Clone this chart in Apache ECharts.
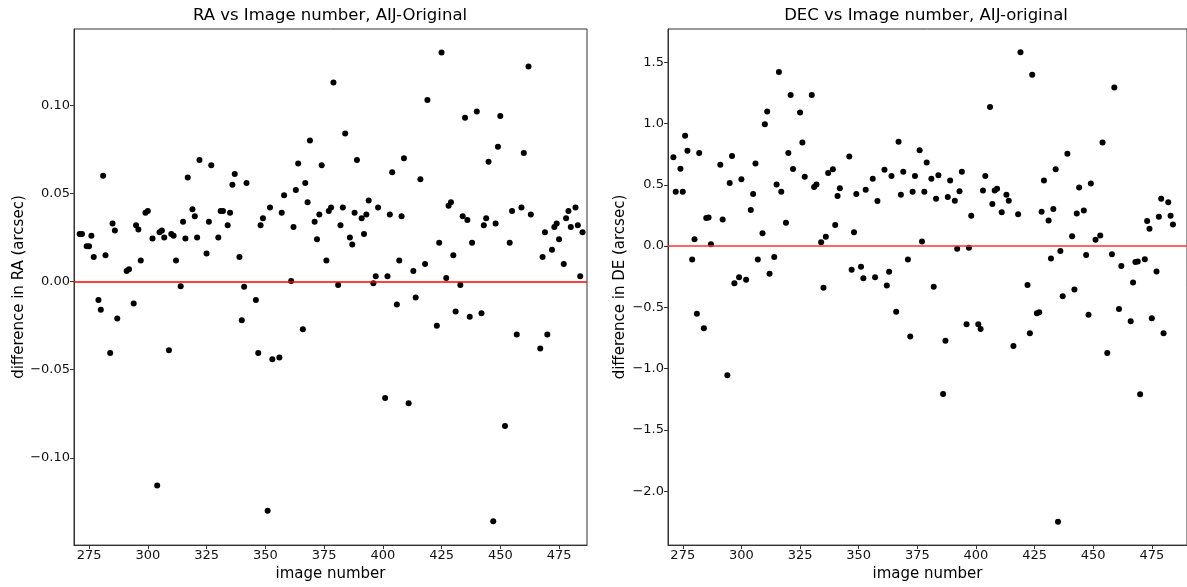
<!DOCTYPE html>
<html>
<head>
<meta charset="utf-8">
<title>AIJ-Original RA / DEC differences</title>
<script src="https://cdn.jsdelivr.net/npm/echarts@6.0.0/dist/echarts.min.js"></script>
<style>
  html, body { margin: 0; padding: 0; background: #fff; }
  #main { width: 1187px; height: 587px; }
</style>
</head>
<body>
<div id="main"></div>
<script>
// image numbers + RA difference (arcsec)
var raImage = [
  271, 272, 274, 275, 276, 277, 279, 280, 281, 282, 284, 285, 286, 287, 291, 292, 294, 295, 296, 297,
  299, 300, 302, 304, 305, 306, 307, 309, 310, 311, 312, 314, 315, 316, 317, 319, 320, 321, 322, 325,
  326, 327, 330, 331, 332, 334, 335, 336, 337, 339, 340, 341, 342, 346, 347, 348, 349, 351, 352, 353,
  356, 357, 358, 361, 362, 363, 364, 366, 367, 368, 369, 371, 372, 373, 374, 376, 377, 378, 379, 381,
  382, 383, 384, 386, 387, 388, 389, 391, 392, 393, 394, 396, 397, 398, 401, 402, 403, 404, 406, 407,
  408, 409, 411, 413, 414, 416, 418, 419, 423, 424, 425, 427, 428, 429, 430, 431, 433, 434, 435, 436,
  437, 438, 440, 442, 443, 444, 445, 447, 448, 449, 450, 452, 454, 455, 457, 459, 460, 462, 463, 467,
  468, 469, 470, 472, 473, 474, 475, 477, 478, 479, 480, 482, 483, 484, 485
];
var raDiff = [
  0.027, 0.027, 0.020, 0.020, 0.026, 0.014, -0.0105, -0.016, 0.060, 0.015, -0.0405, 0.033, 0.029, -0.021, 0.006, 0.007, -0.0125, 0.032, 0.0295, 0.012,
  0.039, 0.040, 0.0245, -0.1157, 0.028, 0.029, 0.025, -0.039, 0.027, 0.026, 0.012, -0.0026, 0.034, 0.0245, 0.059, 0.041, 0.037, 0.025, 0.069, 0.016,
  0.034, 0.066, 0.025, 0.040, 0.040, 0.032, 0.039, 0.055, 0.061, 0.014, -0.022, -0.003, 0.056, -0.0105, -0.0405, 0.032, 0.036, -0.130, 0.042, -0.044,
  -0.043, 0.039, 0.049, 0.0003, 0.031, 0.052, 0.067, -0.027, 0.056, 0.045, 0.080, 0.034, 0.024, 0.038, 0.066, 0.012, 0.040, 0.042, 0.113, -0.002,
  0.032, 0.042, 0.084, 0.025, 0.021, 0.039, 0.069, 0.036, 0.027, 0.038, 0.046, -0.001, 0.003, 0.042, -0.066, 0.003, 0.038, 0.062, -0.013, 0.012,
  0.037, 0.070, -0.069, 0.006, -0.009, 0.058, 0.010, 0.103, -0.025, 0.022, 0.130, 0.002, 0.043, 0.045, 0.015, -0.017, -0.002, 0.037, 0.093, 0.035,
  -0.020, 0.022, 0.0965, -0.018, 0.032, 0.036, 0.068, -0.136, 0.033, 0.0765, 0.094, -0.082, 0.022, 0.040, -0.030, 0.042, 0.073, 0.122, 0.038, -0.038,
  0.014, 0.028, -0.030, 0.018, 0.031, 0.033, 0.024, 0.010, 0.036, 0.040, 0.031, 0.042, 0.032, 0.003, 0.028
];

// image numbers + DEC difference (arcsec)
var decImage = [
  271, 272, 274, 275, 276, 277, 279, 280, 281, 282, 284, 285, 286, 287, 291, 292, 294, 295, 296, 297,
  299, 300, 302, 304, 305, 306, 307, 309, 310, 311, 312, 314, 315, 316, 317, 319, 320, 321, 322, 325,
  326, 327, 330, 331, 332, 334, 335, 336, 337, 339, 340, 341, 342, 346, 347, 348, 349, 351, 352, 353,
  356, 357, 358, 361, 362, 363, 364, 366, 367, 368, 369, 371, 372, 373, 374, 376, 377, 378, 379, 381,
  382, 383, 384, 386, 387, 388, 389, 391, 392, 393, 394, 396, 397, 398, 401, 402, 403, 404, 406, 407,
  408, 409, 411, 413, 414, 416, 418, 419, 422, 423, 424, 426, 427, 428, 429, 431, 432, 433, 434, 435,
  436, 437, 439, 441, 442, 443, 444, 446, 447, 448, 449, 451, 453, 454, 456, 458, 459, 461, 462, 466,
  467, 468, 469, 470, 472, 473, 474, 475, 477, 478, 479, 480, 482, 483, 484
];
var decDiff = [
  0.725, 0.443, 0.631, 0.443, 0.899, 0.778, -0.110, 0.056, -0.553, 0.759, -0.671, 0.228, 0.233, 0.014, 0.663, 0.217, -1.055, 0.515, 0.735, -0.303,
  -0.255, 0.545, -0.274, 0.295, 0.424, 0.674, -0.110, 0.105, 0.993, 1.098, -0.225, -0.089, 0.502, 1.420, 0.443, 0.191, 0.759, 1.232, 0.628, 1.090,
  0.845, 0.566, 1.232, 0.481, 0.502, 0.032, -0.341, 0.075, 0.596, 0.626, 0.172, 0.408, 0.472, 0.730, -0.193, 0.113, 0.424, -0.169, -0.263, 0.459,
  0.550, -0.255, 0.368, 0.622, -0.322, -0.209, 0.572, -0.537, 0.851, 0.419, 0.606, -0.110, -0.738, 0.443, 0.572, 0.781, 0.038, 0.443, 0.682, 0.550,
  -0.333, 0.386, 0.577, -1.208, -0.773, 0.400, 0.534, 0.370, -0.021, 0.448, 0.606, -0.639, -0.013, 0.247, -0.639, -0.676, 0.454, 0.572, 1.135, 0.344,
  0.454, 0.467, 0.276, 0.419, 0.370, -0.816, 0.260, 1.581, -0.317, -0.711, 1.398, -0.548, -0.540, 0.279, 0.534, 0.209, -0.102, 0.303, 0.626, -2.249,
  -0.040, -0.410, 0.754, 0.080, -0.354, 0.266, 0.477, 0.290, -0.072, -0.561, 0.510, 0.051, 0.086, 0.845, -0.872, -0.067, 1.294, -0.513, -0.163, -0.614,
  -0.298, -0.131, -0.126, -1.210, -0.107, 0.204, 0.142, -0.590, -0.207, 0.239, 0.386, -0.711, 0.357, 0.247, 0.175
];

// tick labels
var imageTicks = [275, 300, 325, 350, 375, 400, 425, 450, 475];
var raTicks = [-0.10, -0.05, 0.00, 0.05, 0.10];
var decTicks = [-2.0, -1.5, -1.0, -0.5, 0.0, 0.5, 1.0, 1.5];

var FONT = 'DejaVu Sans';

function pairs(xs, ys) {
  var out = [];
  for (var i = 0; i < xs.length; i++) {
    out.push([xs[i], ys[i]]);
  }
  return out;
}

function minusSign(s) {
  return s.replace('-', '\u2212');
}

function xAxisFor(idx, min, max) {
  return {
    type: 'value',
    gridIndex: idx,
    min: min,
    max: max,
    name: 'image number',
    nameLocation: 'middle',
    nameGap: 19,
    nameTextStyle: { fontFamily: FONT, fontSize: 15, color: '#000' },
    splitLine: { show: false },
    axisLine: { show: true, onZero: false, lineStyle: { color: '#333', width: 1 } },
    axisTick: { show: true, length: 4, inside: false, customValues: imageTicks, lineStyle: { color: '#333' } },
    axisLabel: { customValues: imageTicks, fontFamily: FONT, fontSize: 13, color: '#111', margin: 4 }
  };
}

function yAxisFor(idx, min, max, ticks, digits, label, gap) {
  return {
    type: 'value',
    gridIndex: idx,
    min: min,
    max: max,
    name: label,
    nameLocation: 'middle',
    nameGap: gap,
    nameTextStyle: { fontFamily: FONT, fontSize: 15, color: '#000' },
    splitLine: { show: false },
    axisLine: { show: true, onZero: false, lineStyle: { color: '#333', width: 1 } },
    axisTick: { show: true, length: 4, inside: false, customValues: ticks, lineStyle: { color: '#333' } },
    axisLabel: {
      customValues: ticks,
      fontFamily: FONT, fontSize: 13, color: '#111', margin: 4,
      formatter: function (v) { return minusSign(v.toFixed(digits)); }
    }
  };
}

function zeroLine(color) {
  return {
    silent: true,
    symbol: 'none',
    animation: false,
    label: { show: false },
    lineStyle: { color: color, width: 1.5, type: 'solid', opacity: 1 },
    data: [{ yAxis: 0 }]
  };
}

var myChart = echarts.init(document.getElementById('main'), null, { renderer: 'canvas' });

var option = {
  backgroundColor: '#fff',
  animation: false,
  title: [
    {
      text: 'RA vs Image number, AIJ-Original',
      left: 330, top: 7, padding: 0, textAlign: 'center',
      textStyle: { fontFamily: FONT, fontSize: 16.5, fontWeight: 'normal', color: '#000' }
    },
    {
      text: 'DEC vs Image number, AIJ-original',
      left: 926, top: 7, padding: 0, textAlign: 'center',
      textStyle: { fontFamily: FONT, fontSize: 16.5, fontWeight: 'normal', color: '#000' }
    }
  ],
  grid: [
    { left: 74, top: 29, width: 513, height: 523, show: true, borderColor: '#333', borderWidth: 1, backgroundColor: '#fff' },
    { left: 668, top: 29, width: 530, height: 523, show: true, borderColor: '#333', borderWidth: 1, backgroundColor: '#fff' }
  ],
  xAxis: [
    xAxisFor(0, 268.6, 486.9),
    xAxisFor(1, 268.7, 490.0)
  ],
  yAxis: [
    yAxisFor(0, -0.1495, 0.1433, raTicks, 2, 'difference in RA (arcsec)', 46),
    yAxisFor(1, -2.44, 1.771, decTicks, 1, 'difference in DE (arcsec)', 40)
  ],
  series: [
    {
      name: 'RA',
      type: 'scatter',
      xAxisIndex: 0,
      yAxisIndex: 0,
      symbol: 'circle',
      symbolSize: 6,
      itemStyle: { color: '#000', opacity: 1 },
      data: pairs(raImage, raDiff),
      markLine: zeroLine('#ff0000')
    },
    {
      name: 'DEC',
      type: 'scatter',
      xAxisIndex: 1,
      yAxisIndex: 1,
      symbol: 'circle',
      symbolSize: 6,
      itemStyle: { color: '#000', opacity: 1 },
      data: pairs(decImage, decDiff),
      markLine: zeroLine('#ff3333')
    }
  ]
};

myChart.setOption(option);
</script>
</body>
</html>
